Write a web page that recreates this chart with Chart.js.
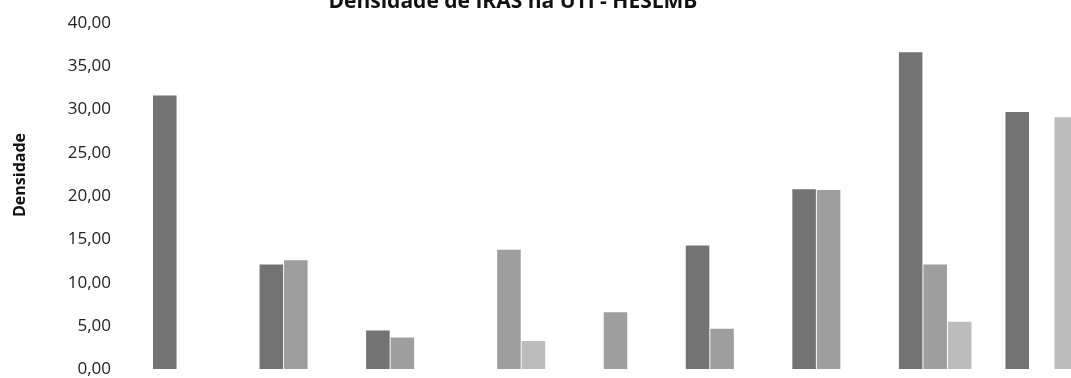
<!DOCTYPE html>
<html lang="pt">
<head>
<meta charset="UTF-8">
<title>Densidade de IRAS na UTI - HESLMB</title>
<script src="https://cdn.jsdelivr.net/npm/chart.js"></script>
<style>
  html, body { margin: 0; padding: 0; background: #fff; overflow: hidden; }
  #chart { display: block; }
</style>
</head>
<body>
<canvas id="chart" width="1100" height="390"></canvas>
<script>
// categorias (rótulos cortados na imagem original)
const categorias = ['Jan', 'Fev', 'Mar', 'Abr', 'Mai', 'Jun', 'Jul', 'Ago', 'Set'];
const serieA = [31.6, 12.1, 4.5, null, null, 14.3, 20.8, 36.6, 29.7];
const serieB = [null, 12.6, 3.7, 13.8, 6.6, 4.7, 20.7, 12.1, null];
const serieC = [null, null, null, 3.3, null, null, null, 5.5, 29.1];
const nomesSeries = ['Série 1', 'Série 2', 'Série 3'];
const ticksY = [0, 5, 10, 15, 20, 25, 30, 35, 40];

const titulo = 'Densidade de IRAS na UTI - HESLMB';
const tituloEixoY = 'Densidade';

// desenha os títulos na posição da imagem
const textos = {
  id: 'textos',
  afterDraw(chart) {
    const ctx = chart.ctx;
    ctx.save();
    ctx.fillStyle = '#111';
    ctx.font = 'bold 21px "Open Sans"';
    ctx.textAlign = 'center';
    ctx.textBaseline = 'alphabetic';
    ctx.fillText(titulo, 513, 7.5);

    ctx.translate(20, 175);
    ctx.rotate(-Math.PI / 2);
    ctx.font = 'bold 16px "Open Sans"';
    ctx.textBaseline = 'middle';
    ctx.fillText(tituloEixoY, 0, 0);
    ctx.restore();
  }
};

const cores = ['#737373', '#9e9e9e', '#bcbcbc'];

new Chart(document.getElementById('chart'), {
  type: 'bar',
  data: {
    labels: categorias,
    datasets: [serieA, serieB, serieC].map((d, i) => ({
      label: nomesSeries[i],
      data: d,
      backgroundColor: cores[i],
      borderWidth: 0,
      categoryPercentage: 0.69,
      barPercentage: 0.96
    }))
  },
  options: {
    responsive: false,
    animation: false,
    layout: { padding: { left: 0, right: 5, top: 22.7, bottom: 20.5 } },
    plugins: {
      legend: { display: false },
      title: { display: false },
      tooltip: { enabled: false }
    },
    scales: {
      x: { display: false },
      y: {
        min: 0,
        max: 40,
        afterBuildTicks: axis => { axis.ticks = ticksY.map(v => ({ value: v })); },
        afterFit: axis => { axis.width = 136; },
        grid: { drawOnChartArea: false, drawTicks: true, tickLength: 25, color: 'rgba(0,0,0,0)' },
        border: { display: false },
        ticks: {
          padding: 0,
          color: '#222',
          font: { family: '"Open Sans"', size: 17 },
          callback: v => v.toFixed(2).replace('.', ',')
        }
      }
    }
  },
  plugins: [textos]
});
</script>
</body>
</html>
